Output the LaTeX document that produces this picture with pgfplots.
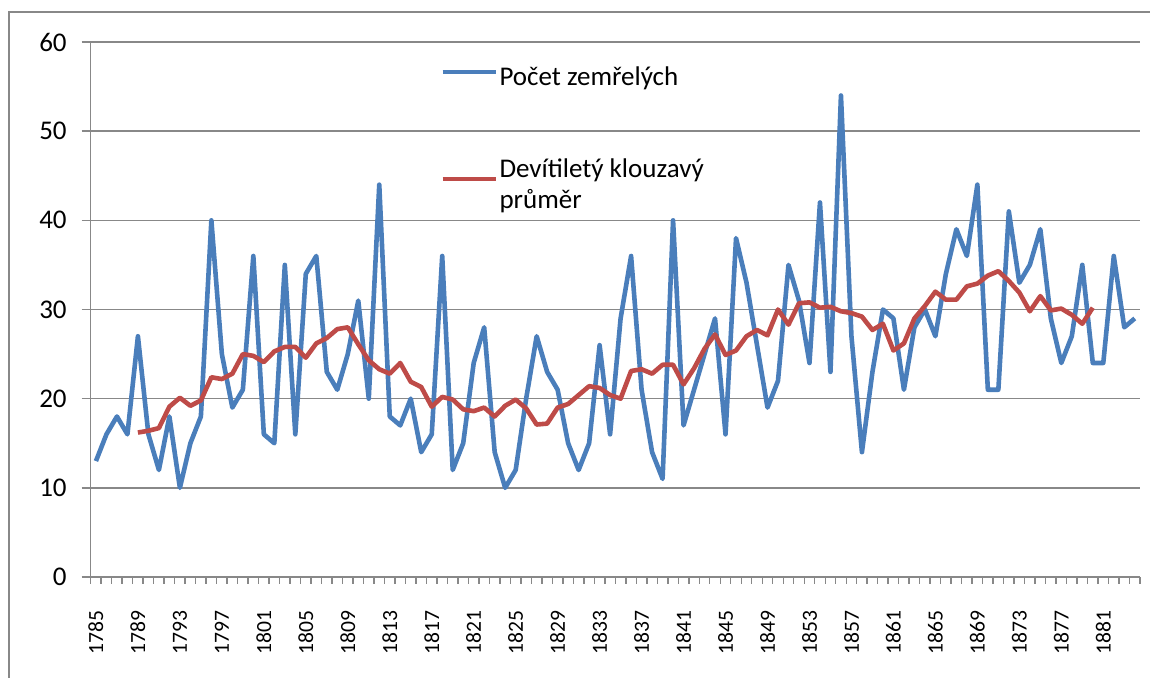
\documentclass[border=0pt]{standalone}
\usepackage{fontspec}
\setmainfont{Carlito}
\usepackage{pgfplots}
\pgfplotsset{compat=1.18}
\definecolor{blueline}{HTML}{4A7EBB}
\definecolor{redline}{HTML}{BE4B48}
\definecolor{gridgray}{HTML}{888888}
\begin{document}
\begin{tikzpicture}
\begin{axis}[
  at={(45.35pt,50.5pt)}, anchor=south west,
  scale only axis, width=524.65pt, height=267.5pt,
  xmin=1784.5, xmax=1884.5, ymin=0, ymax=60,
  axis x line*=bottom, axis y line*=left,
  axis line style={gridgray, line width=0.7pt, -},
  ytick={0,10,...,60},
  ymajorgrids, grid style={gridgray, line width=0.7pt},
  xtick={1785,1789,...,1881},
  minor xtick={1784.5,1785.5,...,1884.5},
  every major x tick/.append style={draw=none},
  tick style={gridgray, line width=0.7pt},
  tick align=outside,
  major tick length=4.5pt,
  minor tick length=3.5pt,
  /pgf/number format/assume math mode=true,
  /pgf/number format/1000 sep={},
  xticklabel style={rotate=90, anchor=east, font=\fontsize{10.8}{12}\selectfont},
  yticklabel style={font=\fontsize{13.5}{16}\selectfont},
  xticklabel shift=9pt,
  yticklabel shift=4pt,
  legend cell align=left,
  legend image code/.code={\draw[#1, line width=2pt] (0pt,0.3em) -- (26.5pt,0.3em);},
  legend style={draw=none, fill=none, at={(rel axis cs:0.333,0.958)}, anchor=north west,
    inner sep=0pt, row sep=33pt, column sep=0pt,
    font=\fontsize{13.5}{15.5}\selectfont,
    cells={align=left}, nodes={inner sep=1pt}},
]
\addplot[blueline, line width=2.3pt, line join=round] coordinates {
(1785,13)(1786,16)(1787,18)(1788,16)(1789,27)(1790,16)(1791,12)(1792,18)(1793,10)(1794,15)
(1795,18)(1796,40)(1797,25)(1798,19)(1799,21)(1800,36)(1801,16)(1802,15)(1803,35)(1804,16)
(1805,34)(1806,36)(1807,23)(1808,21)(1809,25)(1810,31)(1811,20)(1812,44)(1813,18)(1814,17)
(1815,20)(1816,14)(1817,16)(1818,36)(1819,12)(1820,15)(1821,24)(1822,28)(1823,14)(1824,10)
(1825,12)(1826,20)(1827,27)(1828,23)(1829,21)(1830,15)(1831,12)(1832,15)(1833,26)(1834,16)
(1835,29)(1836,36)(1837,21)(1838,14)(1839,11)(1840,40)(1841,17)(1842,21)(1843,25)(1844,29)
(1845,16)(1846,38)(1847,33)(1848,26)(1849,19)(1850,22)(1851,35)(1852,31)(1853,24)(1854,42)
(1855,23)(1856,54)(1857,27)(1858,14)(1859,23)(1860,30)(1861,29)(1862,21)(1863,28)(1864,30)
(1865,27)(1866,34)(1867,39)(1868,36)(1869,44)(1870,21)(1871,21)(1872,41)(1873,33)(1874,35)
(1875,39)(1876,29)(1877,24)(1878,27)(1879,35)(1880,24)(1881,24)(1882,36)(1883,28)(1884,29)
};
\addlegendentry{Počet zemřelých}
\addplot[redline, line width=2.3pt, line join=round] coordinates {
(1789,16.2)(1790,16.4)(1791,16.7)(1792,19.1)(1793,20.1)(1794,19.2)(1795,19.8)(1796,22.4)
(1797,22.2)(1798,22.8)(1799,25.0)(1800,24.8)(1801,24.1)(1802,25.3)(1803,25.8)(1804,25.8)
(1805,24.6)(1806,26.2)(1807,26.8)(1808,27.8)(1809,28.0)(1810,26.1)(1811,24.3)(1812,23.3)
(1813,22.8)(1814,24.0)(1815,21.9)(1816,21.3)(1817,19.1)(1818,20.2)(1819,19.9)(1820,18.8)
(1821,18.6)(1822,19.0)(1823,18.0)(1824,19.2)(1825,19.9)(1826,18.9)(1827,17.1)(1828,17.2)
(1829,19.0)(1830,19.4)(1831,20.4)(1832,21.4)(1833,21.2)(1834,20.4)(1835,20.0)(1836,23.1)
(1837,23.3)(1838,22.8)(1839,23.8)(1840,23.8)(1841,21.6)(1842,23.4)(1843,25.6)(1844,27.2)
(1845,24.9)(1846,25.4)(1847,27.0)(1848,27.7)(1849,27.1)(1850,30.0)(1851,28.3)(1852,30.7)
(1853,30.8)(1854,30.2)(1855,30.3)(1856,29.8)(1857,29.6)(1858,29.2)(1859,27.7)(1860,28.4)
(1861,25.4)(1862,26.2)(1863,29.0)(1864,30.4)(1865,32.0)(1866,31.1)(1867,31.1)(1868,32.6)
(1869,32.9)(1870,33.8)(1871,34.3)(1872,33.2)(1873,31.9)(1874,29.8)(1875,31.5)(1876,29.9)
(1877,30.1)(1878,29.4)(1879,28.4)(1880,30.2)
};
\addlegendentry{Devítiletý klouzavý\\průměr}
\end{axis}
\draw[gridgray, line width=0.85pt] (4.5pt,-20pt) -- (4.5pt,333pt) -- (600pt,333pt);
\pgfresetboundingbox
\useasboundingbox (0,0) rectangle (575pt,339pt);
\end{tikzpicture}
\end{document}
